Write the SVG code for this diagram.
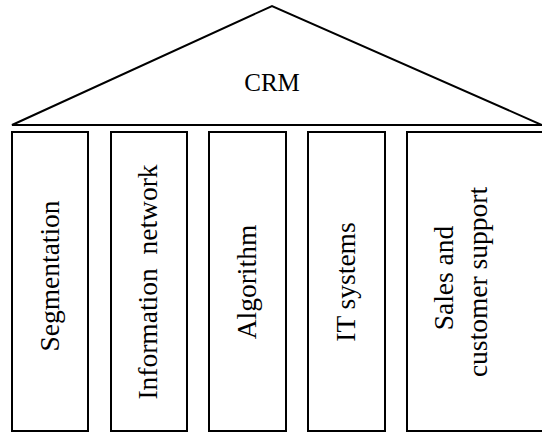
<svg xmlns="http://www.w3.org/2000/svg" width="542" height="432" viewBox="0 0 542 432">
<style>
.shape{fill:#fff;stroke:#000;stroke-width:2}
.lbl{font-family:"Liberation Serif","Times New Roman",serif;font-size:27.5px;fill:#000;text-anchor:middle}
</style>
<rect width="542" height="432" fill="#fff"/>
<g id="roof">
<polygon class="shape" points="12,125 272,6 542,125" stroke-width="1.6"/>
<text class="lbl" x="272" y="91" style="font-size:25px">CRM</text>
</g>
<g id="pillar-segmentation">
<rect class="shape" x="12" y="132" width="76" height="299"/>
<text class="lbl" transform="translate(59,276) rotate(-90)">Segmentation</text>
</g>
<g id="pillar-information">
<rect class="shape" x="111" y="132" width="76" height="299"/>
<text class="lbl" transform="translate(157,282) rotate(-90)" xml:space="preserve">Information  network</text>
</g>
<g id="pillar-algorithm">
<rect class="shape" x="209" y="132" width="77" height="299"/>
<text class="lbl" transform="translate(256,282) rotate(-90)">Algorithm</text>
</g>
<g id="pillar-it">
<rect class="shape" x="308" y="132" width="77" height="299"/>
<text class="lbl" transform="translate(355,282) rotate(-90)">IT systems</text>
</g>
<g id="pillar-sales">
<rect class="shape" x="407" y="132" width="140" height="299"/>
<text class="lbl" transform="translate(453,278) rotate(-90)">Sales and</text>
<text class="lbl" transform="translate(487,282) rotate(-90)">customer support</text>
</g>
<g id="connectors"/>
</svg>
